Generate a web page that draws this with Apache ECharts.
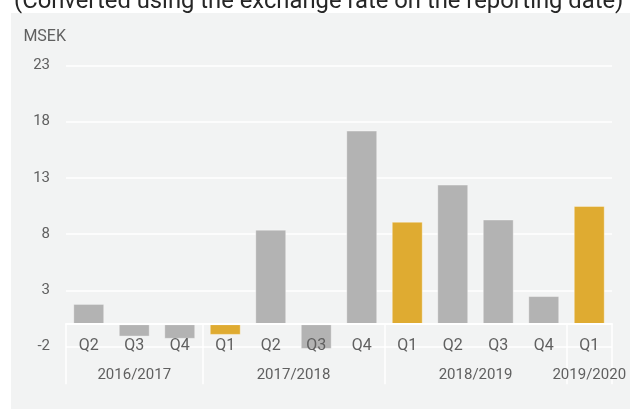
<!DOCTYPE html>
<html>
<head>
<meta charset="utf-8">
<script src="https://cdn.jsdelivr.net/npm/echarts@6/dist/echarts.min.js"></script>
<style>
  html, body { margin: 0; padding: 0; background: #fff; }
  #chart { width: 630px; height: 409px; }
</style>
</head>
<body>
<div id="chart"></div>
<script>
const quarters = ["Q2", "Q3", "Q4", "Q1", "Q2", "Q3", "Q4", "Q1", "Q2", "Q3", "Q4", "Q1"];
const values = [1.8, -1.1, -1.3, -0.95, 8.4, -2.2, 17.2, 9.1, 12.4, 9.3, 2.5, 10.5];
const fiscalYears = ["2016/2017", "2017/2018", "2018/2019", "2019/2020"];
const yearSizes = [3, 4, 4, 1];
const yTicks = { min: -2, max: 23, step: 5 };

const grey = "#b3b3b3";
const gold = "#dfab31";
const labelColor = "#606060";

// year axis runs on half-category steps so group centres and edges land on points
const yearAxisData = new Array(quarters.length * 2 + 1).fill("");
const yearEdges = [0];
let pos = 0;
fiscalYears.forEach((y, i) => {
  yearAxisData[pos + yearSizes[i]] = y;
  pos += yearSizes[i] * 2;
  yearEdges.push(pos);
});

// grid geometry; the category axes are lifted from the grid bottom up to zero
const gridTop = 65.3, gridBottom = 62.3, chartH = 409;
const plotH = chartH - gridTop - gridBottom;
const zeroLift = -plotH * (0 - yTicks.min) / (yTicks.max - yTicks.min);

const chart = echarts.init(document.getElementById("chart"));
chart.setOption({
  animation: false,
  textStyle: { fontFamily: "Roboto" },
  graphic: [
    {
      type: "rect", z: -100, silent: true,
      shape: { x: 11, y: 13, width: 619, height: 396 },
      style: { fill: "#f2f3f3" }
    },
    {
      type: "text", left: 14, top: -10, silent: true,
      style: {
        text: "(Converted using the exchange rate on the reporting date)",
        font: "23.8px Roboto", fill: "#262626"
      }
    }
  ],
  grid: { left: 66, right: 18, top: gridTop, bottom: gridBottom, containLabel: false },
  yAxis: {
    type: "value",
    min: yTicks.min, max: yTicks.max, interval: yTicks.step,
    name: "MSEK", nameLocation: "end", nameGap: 20,
    nameTextStyle: { align: "right", fontSize: 16, color: labelColor },
    axisLine: { show: false }, axisTick: { show: false },
    axisLabel: { margin: 16, fontSize: 15, color: labelColor },
    splitLine: { lineStyle: { color: "#ffffff", width: 1.5 } }
  },
  xAxis: [
    {
      type: "category", data: quarters, z: 3, position: "bottom", offset: zeroLift,
      axisLine: { onZero: false, lineStyle: { color: "#ffffff", width: 2 } },
      axisTick: { show: false },
      axisLabel: { margin: 14, fontSize: 16, color: labelColor, interval: 0 }
    },
    {
      type: "category", data: yearAxisData, boundaryGap: false, position: "bottom", offset: zeroLift,
      axisLine: { show: false, onZero: false },
      axisTick: {
        show: true, length: 60,
        interval: (i) => yearEdges.includes(i),
        lineStyle: { color: "#ffffff", width: 1.5 }
      },
      axisLabel: { margin: 44, fontSize: 15, color: labelColor, interval: 0 }
    }
  ],
  series: [{
    type: "bar",
    xAxisIndex: 0,
    barWidth: "68%",
    clip: false,
    data: values.map((v, i) => ({
      value: v,
      itemStyle: { color: quarters[i] === "Q1" ? gold : grey }
    })),
    itemStyle: { borderColor: "rgba(255,255,255,0.35)", borderWidth: 1 }
  }]
});
</script>
</body>
</html>
